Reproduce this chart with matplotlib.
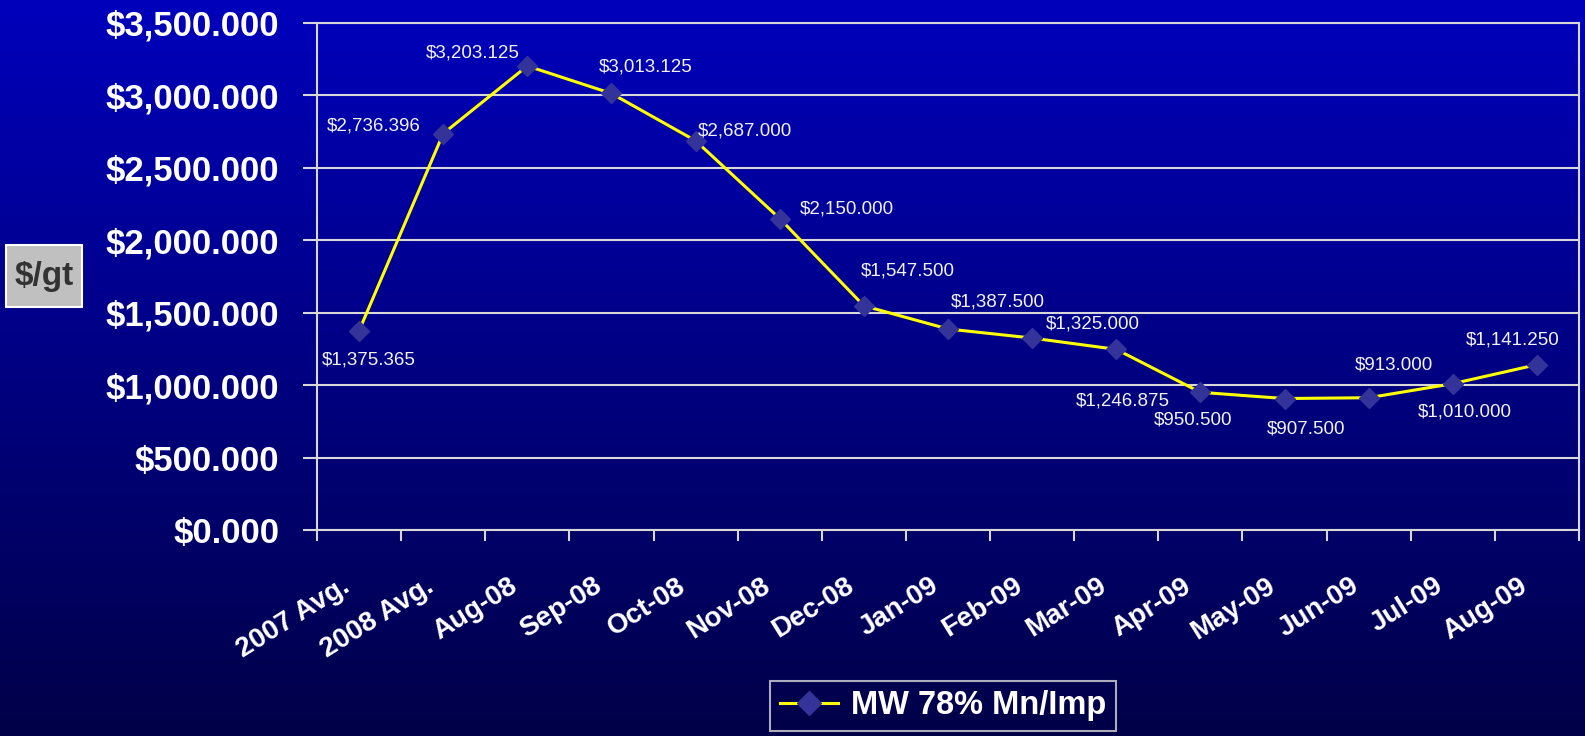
"""
MW 78% Mn/Imp price chart
"""

import matplotlib
matplotlib.use("Agg")
import matplotlib.pyplot as plt
from matplotlib.lines import Line2D
from matplotlib.patches import Rectangle
from matplotlib.transforms import ScaledTranslation
import numpy as np

# data
categories = ['2007 Avg.', '2008 Avg.', 'Aug-08', 'Sep-08', 'Oct-08', 'Nov-08',
              'Dec-08', 'Jan-09', 'Feb-09', 'Mar-09', 'Apr-09', 'May-09',
              'Jun-09', 'Jul-09', 'Aug-09']
prices = [1375.365, 2736.396, 3203.125, 3013.125, 2687.000, 2150.000,
          1547.500, 1387.500, 1325.000, 1246.875, 950.500, 907.500,
          913.000, 1010.000, 1141.250]
y_ticks = [0, 500, 1000, 1500, 2000, 2500, 3000, 3500]
series_name = 'MW 78% Mn/Imp'

# label offsets in pixels (dx, dy)
label_offsets = [(10, -29), (-69, 8), (-55, 13), (34, 26), (49, 10), (67, 10),
                 (44, 35), (50, 27), (61, 14), (7, -52), (-7, -28), (22, -30),
                 (25, 33), (12, -28), (-24, 25)]

plt.rcParams['font.family'] = ['Liberation Sans', 'DejaVu Sans']

fig = plt.figure(figsize=(15.85, 7.36), dpi=100)

# gradient background
bg = fig.add_axes([0, 0, 1, 1], zorder=-10)
top = np.array([0, 0, 188]) / 255
bottom = np.array([0, 0, 72]) / 255
t = np.linspace(0, 1, 256)[:, None]
grad = top[None, :] * (1 - t) + bottom[None, :] * t
bg.imshow(grad[:, None, :], aspect='auto', extent=[0, 1, 0, 1])
bg.axis('off')

ax = fig.add_axes([0.2, 0.2799, 0.7962, 0.6889])
ax.patch.set_alpha(0)

x = np.arange(len(categories))
ax.plot(x, prices, color='#FFFF00', lw=2.2, marker='D', markersize=10,
        markerfacecolor='#333399', markeredgecolor='#333399', zorder=3)

for xi, v, (dx, dy) in zip(x, prices, label_offsets):
    ax.annotate(f"${v:,.3f}", (xi, v), xytext=(dx, dy), textcoords='offset pixels',
                ha='center', va='center', color='#F2F2F2', fontsize=13.5)

ax.set_xlim(-0.5, len(categories) - 0.5)
ax.set_ylim(0, 3500)
ax.set_yticks(y_ticks)
ax.set_yticklabels([f"${v:,.3f}" for v in y_ticks], fontsize=25,
                   fontweight='bold', color='white')
ax.yaxis.grid(True, color='#D8D8D8', lw=1.5)
ax.set_axisbelow(True)

# category ticks sit between categories, labels drawn as text
ax.set_xticks(np.arange(-0.5, len(categories)))
ax.set_xticklabels([])
ax.tick_params(axis='x', length=8, width=1.5, color='#D8D8D8')
lbl_trans = ax.get_xaxis_transform() + ScaledTranslation(-0.12, -0.54, fig.dpi_scale_trans)
for xi, cat in zip(x, categories):
    ax.text(xi, 0, cat, transform=lbl_trans, rotation=32, ha='right', va='center',
            rotation_mode='anchor', fontsize=20, fontweight='bold', color='white',
            clip_on=False)

ax.tick_params(axis='y', length=10, width=1.5, color='#D8D8D8', pad=17)

for s in ax.spines.values():
    s.set_color('#D8D8D8')
    s.set_linewidth(1.5)

# $/gt box
fig.patches.append(Rectangle((0.0038, 0.5829), 0.048, 0.0842, transform=fig.transFigure,
                             facecolor='#C0C0C0', edgecolor='white', lw=1.5))
fig.text(0.0278, 0.625, '$/gt', fontsize=24, fontweight='bold', color='#333333',
         ha='center', va='center')

handle = Line2D([], [], color='#FFFF00', lw=2.2, marker='D', markersize=12,
                markerfacecolor='#333399', markeredgecolor='#333399')
leg = fig.legend([handle], [series_name], loc='center', bbox_to_anchor=(0.595, 0.0408),
                 frameon=True, fancybox=False, fontsize=23.5, handlelength=1.8,
                 borderpad=0.3, handletextpad=0.4)
leg.get_frame().set_facecolor('none')
leg.get_frame().set_edgecolor('#D8D8D8')
leg.get_frame().set_linewidth(1.5)
for txt in leg.get_texts():
    txt.set_color('white')
    txt.set_fontweight('bold')

fig.savefig('out.png', dpi=100)
